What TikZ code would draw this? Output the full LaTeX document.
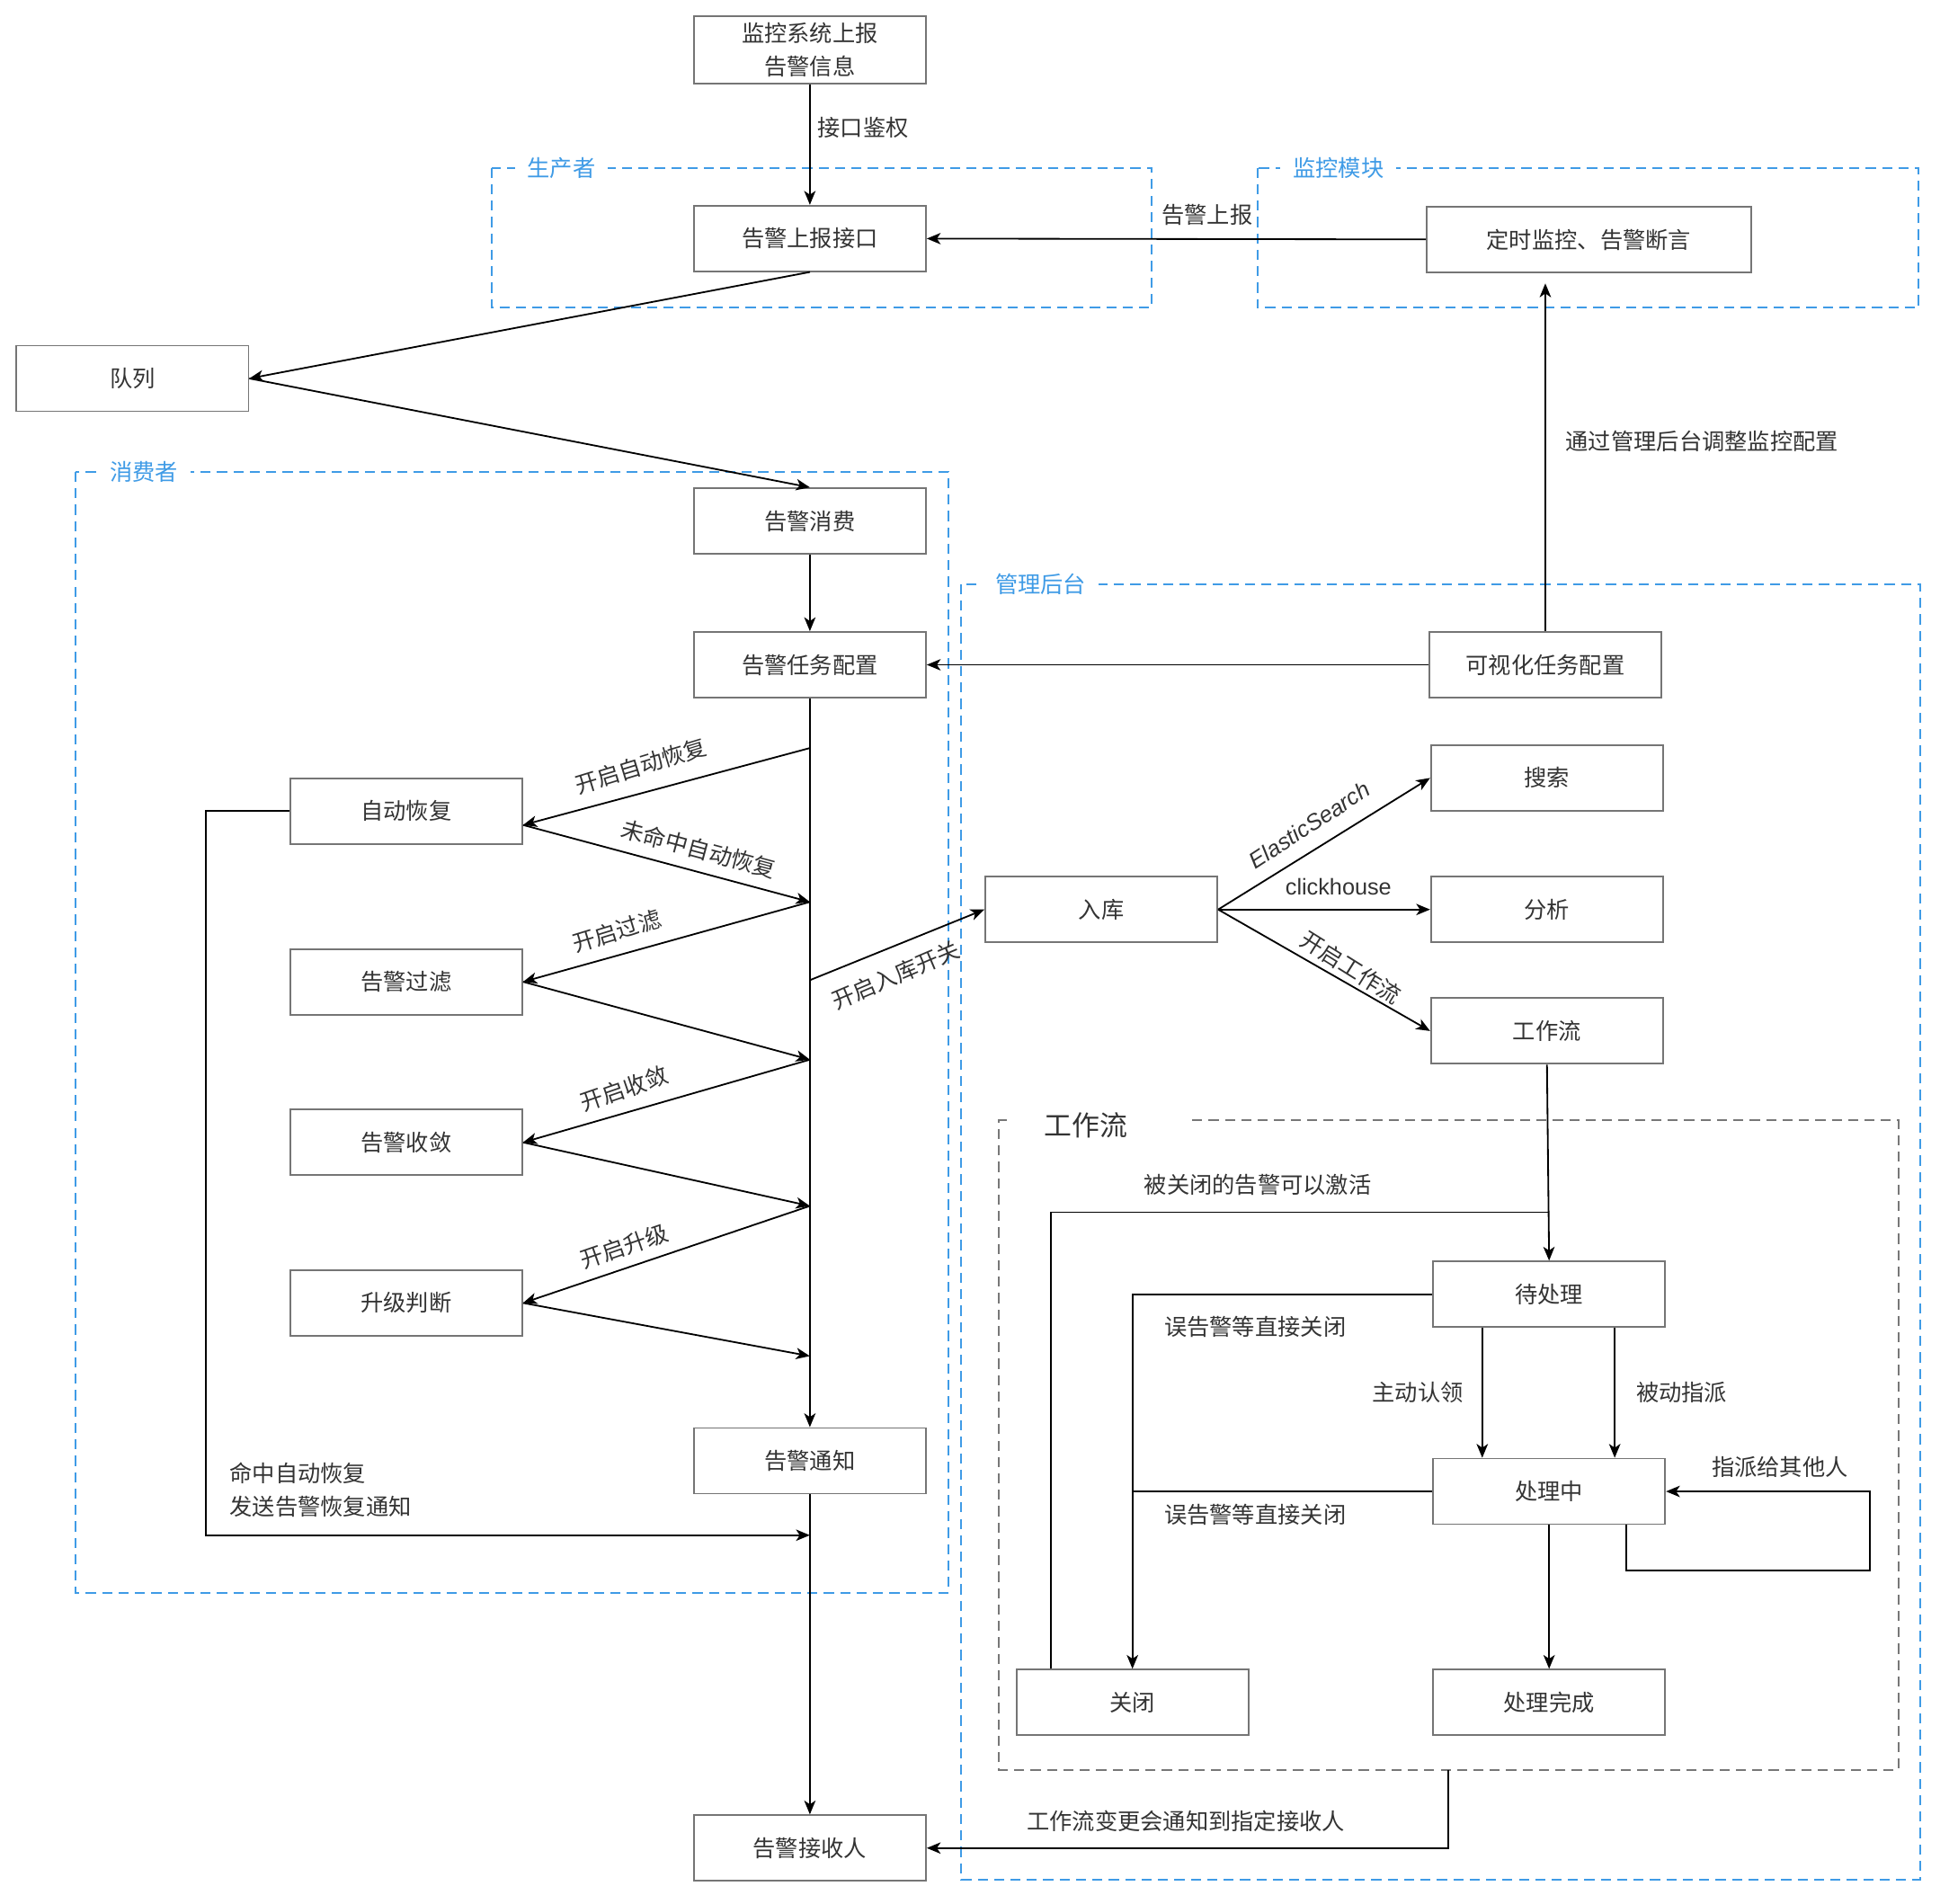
\documentclass[tikz,border=0pt]{standalone}
\usepackage{fontspec}
\setmainfont{Noto Sans CJK SC}
\newfontfamily\latinfont{Liberation Sans}
\usetikzlibrary{positioning,arrows.meta}
\definecolor{boxgray}{HTML}{757575}
\definecolor{textgray}{HTML}{333333}
\definecolor{groupblue}{HTML}{3F9BE6}
\definecolor{groupgray}{HTML}{777777}

\begin{document}
\begin{tikzpicture}[x=1pt, y=-1pt, font=\fontsize{18}{22}\selectfont,
      arrowstyle/.style={->, line width=1.3pt, >={Stealth[length=11pt, width=9pt, inset=3pt]}},
      linestyle/.style={line width=1.3pt},
      edgelabel/.style={text=textgray, inner sep=1pt},
      grouplabel/.style={text=groupblue, fill=white, inner xsep=10pt, inner ysep=2pt}]
      % A box style
      \tikzstyle{boxnode} = [draw=boxgray, line width=1.3pt, rectangle, text=textgray, align=center, minimum width=184pt, minimum height=52pt, inner sep=3pt]
      \tikzstyle{groupbox} = [draw=groupblue, line width=1.3pt, dash pattern=on 8pt off 5pt]
      \useasboundingbox (0,0) rectangle (1545,1509);

      % Dashed groups
      \draw[groupbox] (390,133) rectangle (913,244);
      \draw[groupbox] (997,133) rectangle (1521,244);
      \draw[groupbox] (60,374) rectangle (752,1263);
      \draw[groupbox] (762,463) rectangle (1522,1490);
      \draw[groupbox, draw=groupgray] (945,888) -| (1505,1403) -| (792,888) -- (800,888);
      \node (producer) [grouplabel] at (445,133) {生产者};
      \node (monitor)  [grouplabel] at (1061,133) {监控模块};
      \node (consumer) [grouplabel] at (114,374) {消费者};
      \node (admin)    [grouplabel] at (825,463) {管理后台};
      \node (wfgroup)  [text=textgray, font=\fontsize{22}{26}\selectfont] at (861,892) {工作流};

      % Place the nodes of the main column (top to bottom)
      \node (src)      [boxnode, minimum height=53pt, font=\fontsize{18}{26}\selectfont] at (642,39.5) {监控系统上报\\告警信息};
      \node (api)      [boxnode] at (642,189) {告警上报接口};
      \node (queue)    [boxnode] at (105,300) {队列};
      \node (consume)  [boxnode] at (642,413) {告警消费};
      \node (taskcfg)  [boxnode] at (642,527) {告警任务配置};
      \node (notify)   [boxnode] at (642,1158) {告警通知};
      \node (recv)     [boxnode] at (642,1465) {告警接收人};

      % Steps on the left
      \node (autorec)  [boxnode] at (322,643) {自动恢复};
      \node (filter)   [boxnode, below=82pt of autorec] {告警过滤};
      \node (converge) [boxnode, below=74pt of filter] {告警收敛};
      \node (upgrade)  [boxnode, below=74pt of converge] {升级判断};

      % Monitor module and admin side
      \node (timer)    [boxnode, minimum width=257pt] at (1259.5,190) {定时监控、告警断言};
      \node (viscfg)   [boxnode] at (1225,527) {可视化任务配置};
      \node (store)    [boxnode] at (873,721) {入库};
      \node (analyze)  [boxnode, right=168pt of store] {分析};
      \node (search)   [boxnode, above=51pt of analyze] {搜索};
      \node (wf)       [boxnode, below=43pt of analyze] {工作流};

      % Workflow states
      \node (pending)    [boxnode] at (1228,1026) {待处理};
      \node (processing) [boxnode, below=103pt of pending] {处理中};
      \node (done)       [boxnode, below=114pt of processing] {处理完成};
      \node (closed)     [boxnode, left=145pt of done] {关闭};

      % Points on the trunk line
      \coordinate (t1) at (642,593);
      \coordinate (t2) at (642,715);
      \coordinate (t3) at (642,840);
      \coordinate (t4) at (642,956);
      \coordinate (t5) at (642,1075);
      \coordinate (t6) at (642,777);
      \coordinate (t7) at (642,1217);
      \coordinate (reopen) at (1227,961);
      \coordinate (wfout) at (1148,1403);

      % Draw arrows
      \draw[arrowstyle] (src) -- (api);
      \draw[arrowstyle] (timer) -- (api);
      \draw[arrowstyle] (api.south) -- (queue.east);
      \draw[arrowstyle] (queue.east) -- (consume.north);
      \draw[arrowstyle] (consume) -- (taskcfg);
      \draw[arrowstyle] (viscfg) -- (taskcfg);
      \draw[arrowstyle, shorten >=8pt] (viscfg.north) -- (viscfg.north |- timer.south);
      \draw[arrowstyle] (taskcfg) -- (notify);
      \draw[arrowstyle] (notify) -- (recv);

      \draw[arrowstyle] (t1) -- ([yshift=-11pt]autorec.east);
      \draw[arrowstyle] ([yshift=-11pt]autorec.east) -- (t2);
      \draw[arrowstyle] (t2) -- (filter.east);
      \draw[arrowstyle] (filter.east) -- (t3);
      \draw[arrowstyle] (t3) -- (converge.east);
      \draw[arrowstyle] (converge.east) -- (t4);
      \draw[arrowstyle] (t4) -- (upgrade.east);
      \draw[arrowstyle] (upgrade.east) -- (t5);
      \draw[arrowstyle] (t6) -- (store.west);
      \draw[arrowstyle] (autorec.west) -- ++(-66,0) |- (t7);

      \draw[arrowstyle] (store.east) -- (search.west);
      \draw[arrowstyle] (store.east) -- (analyze.west);
      \draw[arrowstyle] (store.east) -- (wf.west);

      \draw[arrowstyle] (wf.south) -- (pending.north);
      \draw[linestyle] ([xshift=28pt]closed.north west) |- (reopen);
      \draw[arrowstyle] (pending.west) -| (closed.north);
      \draw[linestyle] (processing.west) -- (processing.west -| closed.north);
      \draw[arrowstyle] ([xshift=-53pt]pending.south) -- ([xshift=-53pt]processing.north);
      \draw[arrowstyle] ([xshift=52pt]pending.south) -- ([xshift=52pt]processing.north);
      \draw[arrowstyle] ([xshift=61pt]processing.south) -- ++(0,36) -- ++(193,0) |- (processing.east);
      \draw[arrowstyle] (processing) -- (done);
      \draw[arrowstyle] (wfout) |- (recv.east);

      % Labels
      \node (authlbl)   [edgelabel, anchor=west] at (647,101) {接口鉴权};
      \node (reportlbl) [edgelabel] at (957,170) {告警上报};
      \node (adjustlbl) [edgelabel, anchor=west] at (1240,350) {通过管理后台调整监控配置};
      \node (onauto)    [edgelabel, rotate=17] at (508,607) {开启自动恢复};
      \node (missauto)  [edgelabel, rotate=-15] at (554,673) {未命中自动恢复};
      \node (onfilter)  [edgelabel, rotate=17] at (489,738) {开启过滤};
      \node (onconv)    [edgelabel, rotate=19] at (495,863) {开启收敛};
      \node (onup)      [edgelabel, rotate=19] at (495,988) {开启升级};
      \node (onstore)   [edgelabel, rotate=23] at (710,773) {开启入库开关};
      \node (hitauto)   [edgelabel, anchor=west, align=left, font=\fontsize{18}{26}\selectfont] at (181,1181) {命中自动恢复\\发送告警恢复通知};
      \node (eslbl)     [edgelabel, rotate=33, font=\latinfont\itshape\fontsize{18}{22}\selectfont] at (1038,654) {ElasticSearch};
      \node (cklbl)     [edgelabel, font=\latinfont\fontsize{18}{22}\selectfont] at (1061,703) {clickhouse};
      \node (onwf)      [edgelabel, rotate=-32] at (1071,767) {开启工作流};
      \node (reopenlbl) [edgelabel] at (997,939) {被关闭的告警可以激活};
      \node (close1)    [edgelabel] at (995,1052) {误告警等直接关闭};
      \node (close2)    [edgelabel] at (995,1201) {误告警等直接关闭};
      \node (claim)     [edgelabel] at (1124,1104) {主动认领};
      \node (assign)    [edgelabel] at (1333,1104) {被动指派};
      \node (others)    [edgelabel] at (1411,1163) {指派给其他人};
      \node (changelbl) [edgelabel] at (940,1444) {工作流变更会通知到指定接收人};
\end{tikzpicture}
\end{document}
